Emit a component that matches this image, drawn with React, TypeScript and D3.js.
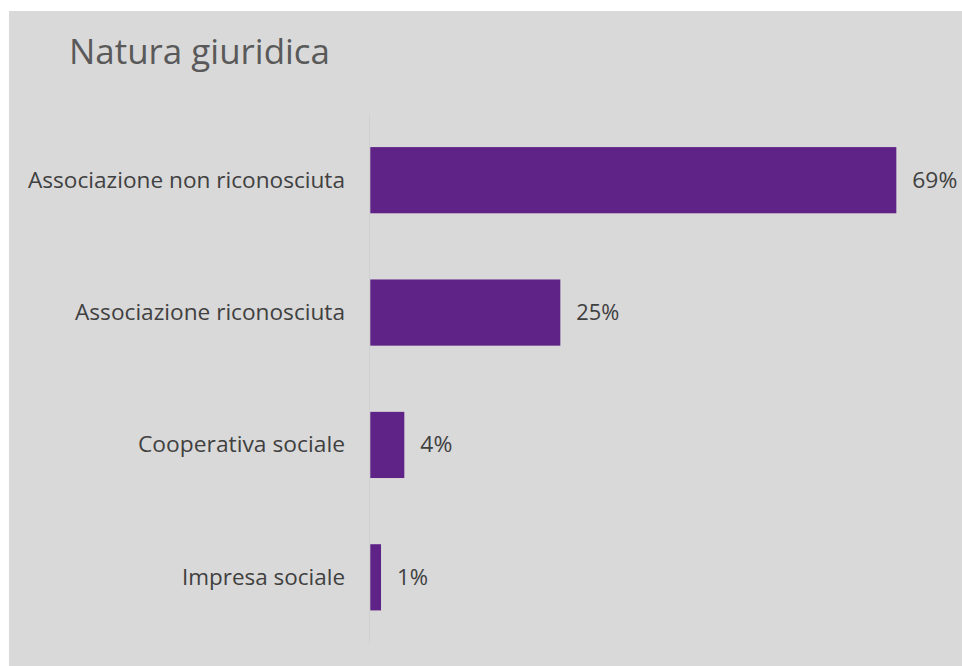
import React from "react";
import * as d3 from "d3";

const title = "Natura giuridica";
const categories = [
  "Associazione non riconosciuta",
  "Associazione riconosciuta",
  "Cooperativa sociale",
  "Impresa sociale",
];
const values = [69.15, 24.98, 4.47, 1.41];
const valueLabels = ["69%", "25%", "4%", "1%"];

const W = 962;
const H = 666;

export default function App() {
  const x = d3.scaleLinear().domain([0, 100]).range([370.3, 370.3 + 760.7]);
  const y = d3
    .scaleBand<string>()
    .domain(categories)
    .range([114, 643.5])
    .paddingInner(0.5)
    .paddingOuter(0.25);
  const font = "'Open Sans', 'Noto Sans', sans-serif";
  const catWidths = [317, 270, 207, 163];
  const valWidths = [45, 43, 32, 31];
  return (
    <svg
      width={W}
      height={H}
      style={{ position: "absolute", left: 0, top: 0, display: "block" }}
    >
      <rect x={9} y={11} width={W - 9} height={H - 11} fill="#D9D9D9" />
      <text
        x={69}
        y={64}
        fontFamily={font}
        fontSize={34}
        fill="#595959"
        textLength={261}
        lengthAdjust="spacingAndGlyphs"
      >
        {title}
      </text>
      <line
        x1={x(0) - 0.8}
        x2={x(0) - 0.8}
        y1={y.range()[0]}
        y2={y.range()[1]}
        stroke="#d0d0d0"
        strokeWidth={1}
      />
      {categories.map((c, i) => {
        const by = y(c)!;
        const bw = y.bandwidth();
        const cy = by + bw / 2;
        return (
          <g key={c}>
            <rect
              x={x(0)}
              y={by}
              width={x(values[i]) - x(0)}
              height={bw}
              fill="#5F2388"
            />
            <text
              x={345 - catWidths[i]}
              y={cy}
              dy="0.36em"
              fontFamily={font}
              fontSize={21}
              fill="#404040"
              textLength={catWidths[i]}
              lengthAdjust="spacingAndGlyphs"
            >
              {c}
            </text>
            <text
              x={x(values[i]) + 16}
              y={cy}
              dy="0.36em"
              fontFamily={font}
              fontSize={21}
              fill="#404040"
              textLength={valWidths[i]}
              lengthAdjust="spacingAndGlyphs"
            >
              {valueLabels[i]}
            </text>
          </g>
        );
      })}
    </svg>
  );
}
